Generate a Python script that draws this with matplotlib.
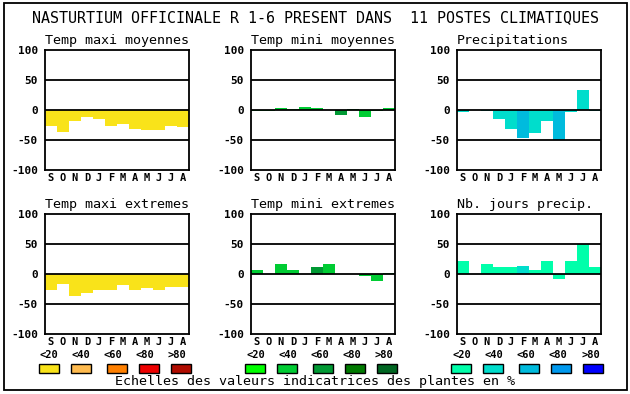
import matplotlib
matplotlib.use("Agg")
import matplotlib.pyplot as plt
from matplotlib.patches import Rectangle

W, H = 630, 394
plt.rcParams['font.family'] = ['DejaVu Sans Mono']

months = ["S", "O", "N", "D", "J", "F", "M", "A", "M", "J", "J", "A"]
title = "NASTURTIUM OFFICINALE R 1-6 PRESENT DANS  11 POSTES CLIMATIQUES"
panel_titles = ["Temp maxi moyennes", "Temp mini moyennes", "Precipitations",
                "Temp maxi extremes", "Temp mini extremes", "Nb. jours precip."]

tmax_moy = [-27, -36, -18, -12, -15, -27, -23, -32, -34, -34, -27, -28]
tmin_moy = [-1, -1, 3, 2, 5, 3, 0, -8, 1, -11, -2, 3]
precip = [-4, 0, -2, -15, -31, -46, -38, -18, -50, -4, 33, -2]
tmax_ext = [-27, -16, -36, -32, -26, -27, -18, -26, -23, -26, -21, -22]
tmin_ext = [6, 0, 16, 7, 0, 11, 16, 0, 0, -4, -11, 2]
nb_jours = [22, 0, 16, 11, 11, 14, 7, 22, -8, 21, 50, 12]

# colour class (0..4) of each bar
cls_tmax_moy = [0] * 12
cls_tmin_moy = [1, 1, 1, 1, 1, 1, 1, 2, 2, 1, 1, 1]
cls_precip = [1, 1, 1, 1, 1, 2, 1, 1, 2, 1, 1, 1]
cls_tmax_ext = [0] * 12
cls_tmin_ext = [1, 1, 1, 1, 1, 2, 1, 1, 1, 1, 1, 1]
cls_nb_jours = [0, 0, 0, 0, 0, 1, 0, 0, 0, 0, 0, 0]

scale_labels = ["<20", "<40", "<60", "<80", ">80"]
warm = ["#F9E31A", "#FFBB4F", "#FF8000", "#EE0000", "#B00C00"]
green = ["#00FF00", "#00CC33", "#009933", "#007A00", "#006622"]
blue = ["#00FFAA", "#00DDCC", "#00BBDD", "#0099EE", "#0000FF"]
footer = "Echelles des valeurs indicatrices des plantes en %"

fig = plt.figure(figsize=(W / 100, H / 100), dpi=100)

def px_axes(x0, y0, x1, y1):
    return fig.add_axes([x0 / W, 1 - y1 / H, (x1 - x0) / W, (y1 - y0) / H])

panels = [
    (tmax_moy, cls_tmax_moy, warm),
    (tmin_moy, cls_tmin_moy, green),
    (precip, cls_precip, blue),
    (tmax_ext, cls_tmax_ext, warm),
    (tmin_ext, cls_tmin_ext, green),
    (nb_jours, cls_nb_jours, blue),
]
lefts = [45, 251, 457]
tops = [50, 214]

for i, (vals, cls, pal) in enumerate(panels):
    r, c = divmod(i, 3)
    ax = px_axes(lefts[c], tops[r], lefts[c] + 144, tops[r] + 120)
    cols = [pal[k] for k in cls]
    ax.bar(range(12), vals, width=1.0, color=cols, zorder=1, linewidth=0)
    for yv in (-50, 0, 50):
        ax.axhline(yv, color="black", lw=1.3, zorder=3)
    ax.set_xlim(-0.5, 11.5)
    ax.set_ylim(-100, 100)
    ax.set_yticks([-100, -50, 0, 50, 100])
    ax.set_yticklabels(["-100", "-50", "0", "50", "100"], fontweight="bold", fontsize=8)
    ax.set_xticks(range(12))
    ax.set_xticklabels(months, fontweight="bold", fontsize=7.5)
    ax.tick_params(length=0, pad=5)
    ax.tick_params(axis="x", pad=2)
    for s in ax.spines.values():
        s.set_linewidth(1.3)
    ax.set_title(panel_titles[i], loc="left", fontsize=9.6, pad=4)

fig.text(315 / W, 1 - 18 / H, title, ha="center", va="center", fontsize=10.8)

# legend scales
lab_centers = [[49, 81, 113, 145, 177], [256, 288, 320, 352, 384], [462, 494, 526, 558, 591]]
sw_lefts = [[39, 71, 107, 139, 171], [245, 277, 313, 345, 377], [451, 483, 519, 551, 583]]
for g, pal in enumerate([warm, green, blue]):
    for k in range(5):
        fig.text(lab_centers[g][k] / W, 1 - 355 / H, scale_labels[k], ha="center",
                 va="center", fontsize=7.5, fontweight="bold")
        fig.patches.append(Rectangle((sw_lefts[g][k] / W, 1 - 373 / H), 20 / W, 9 / H,
                                     transform=fig.transFigure, facecolor=pal[k],
                                     edgecolor="black", lw=1.0))

fig.text(315 / W, 1 - 382 / H, footer, ha="center", va="center", fontsize=9.6)

fig.patches.append(Rectangle((4 / W, 1 - 390 / H), 623 / W, 387 / H,
                             transform=fig.transFigure, facecolor="none",
                             edgecolor="black", lw=1.3))

fig.savefig("out.png", dpi=100)
